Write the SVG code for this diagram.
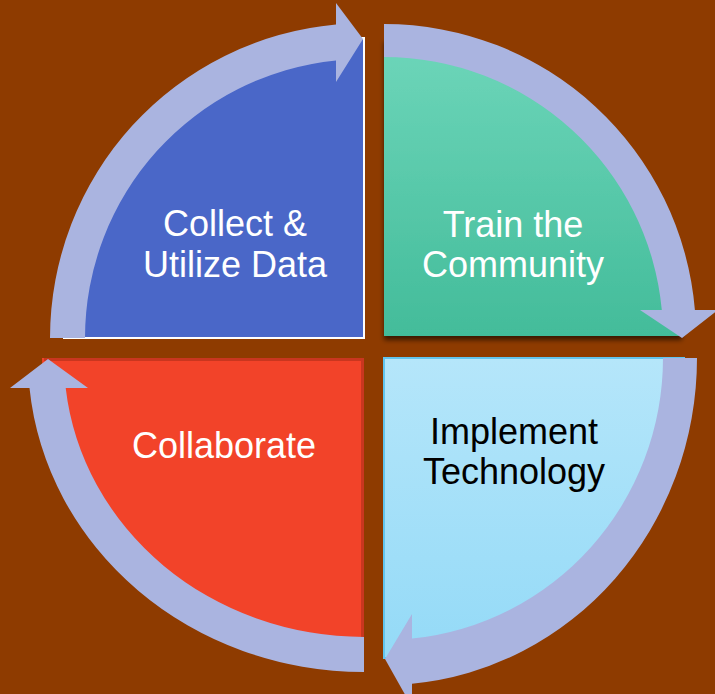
<svg xmlns="http://www.w3.org/2000/svg" width="715" height="694" viewBox="0 0 715 694">
<defs>
<linearGradient id="gGreen" x1="0" y1="0" x2="0" y2="1">
<stop offset="0" stop-color="#6ED6BA"/>
<stop offset="1" stop-color="#43BC9A"/>
</linearGradient>
<linearGradient id="gBlue" x1="0" y1="0" x2="0" y2="1">
<stop offset="0" stop-color="#B5E6FA"/>
<stop offset="1" stop-color="#94DAF7"/>
</linearGradient>
<filter id="shadow" x="-10%" y="-10%" width="120%" height="125%">
<feGaussianBlur in="SourceAlpha" stdDeviation="2.5"/>
<feOffset dx="0" dy="4" result="b"/>
<feComponentTransfer><feFuncA type="linear" slope="0.6"/></feComponentTransfer>
<feMerge><feMergeNode/><feMergeNode in="SourceGraphic"/></feMerge>
</filter>
</defs>
<style>
.lbl{font-family:"Liberation Sans",Arial,sans-serif;font-size:36px;text-anchor:middle}
.w{fill:#FFFFFF}
.k{fill:#000000}
.ring{fill:#AAB4E0}
</style>
<rect x="0" y="0" width="715" height="694" fill="#8E3B00"/>
<g id="node-collect">
<path d="M364,338 L64,338 A300 300 0 0 1 364,38 Z" fill="#4A67C8" stroke="#FFFFFF" stroke-width="2"/>
<text class="lbl w" x="235" y="236">Collect &amp;</text>
<text class="lbl w" x="235" y="277">Utilize Data</text>
</g>
<g id="node-train">
<path d="M384,336 L384,38 A298 298 0 0 1 682,336 Z" fill="url(#gGreen)" filter="url(#shadow)"/>
<text class="lbl w" x="513" y="237">Train the</text>
<text class="lbl w" x="513" y="277">Community</text>
</g>
<g id="node-implement">
<path d="M384,358 L684,358 A300 300 0 0 1 384,658 Z" fill="url(#gBlue)" stroke="#62C5EE" stroke-width="2"/>
<text class="lbl k" x="514" y="444">Implement</text>
<text class="lbl k" x="514" y="484">Technology</text>
</g>
<g id="node-collaborate">
<path d="M364,358 L364,658 A322 300 0 0 1 42,358 Z" fill="#F24329"/>
<path d="M44,359.5 L362.5,359.5 L362.5,656" fill="none" stroke="#C9361F" stroke-width="3"/>
<text class="lbl w" x="224" y="458">Collaborate</text>
</g>
<g id="connectors">
<path class="ring" d="M50,338 A314 315 0 0 1 336,24.5 L336,3 L363,39 L336,82 L336,60.4 A279 279 0 0 0 85,338 Z"/>
<path class="ring" d="M384,24 A312 312 0 0 1 694.9,310 L718,310 L682,338 L640,310 L661.8,310 A279 279 0 0 0 384,57 Z"/>
<path class="ring" d="M697,358 A313 327 0 0 1 412,683.7 L412,707 L385,659 L412,614 L412,638.6 A279 282 0 0 0 663,358 Z"/>
<path class="ring" d="M364,672 A336 314 0 0 1 29.5,388 L10,388 L48,359 L88,388 L65.7,388 A300 279 0 0 0 364,637 Z"/>
</g>
</svg>
